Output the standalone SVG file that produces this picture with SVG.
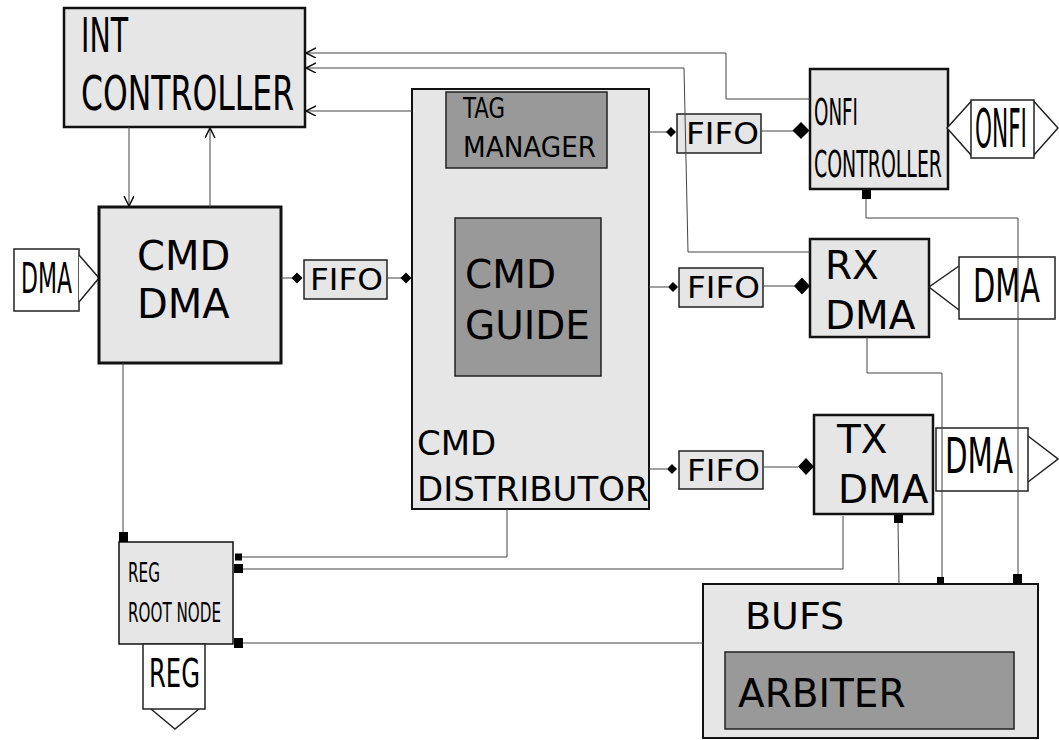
<svg xmlns="http://www.w3.org/2000/svg" width="1059" height="740" viewBox="0 0 1059 740">
<defs>
<style>
.box{fill:#e6e6e6;stroke:#111;}
.inner{fill:#999;stroke:#222;stroke-width:1.5;}
.out{fill:#fff;stroke:#222;stroke-width:1.5;}
.fifo{fill:#e6e6e6;stroke:#222;stroke-width:1.5;}
.t{font-family:"DejaVu Sans","Liberation Sans",sans-serif;fill:#000;}
.c{fill:none;stroke:#444;stroke-width:1;}
.dot{fill:#000;stroke:none;}
</style>
<marker id="arr" markerWidth="12" markerHeight="12" refX="10" refY="5" orient="auto" markerUnits="userSpaceOnUse">
<path d="M0,0 L10,5 L0,10" fill="none" stroke="#111" stroke-width="1.5"/>
</marker>
</defs>
<rect width="1059" height="740" fill="#fff"/>

<g id="int-controller">
<rect class="box" x="64" y="8" width="241" height="119" stroke-width="2.5"/>
<text class="t" x="81" y="52" font-size="48" textLength="47" lengthAdjust="spacingAndGlyphs">INT</text>
<text class="t" x="81" y="110" font-size="48" textLength="213" lengthAdjust="spacingAndGlyphs">CONTROLLER</text>
</g>

<g id="dma-in">
<rect class="out" x="14" y="249" width="65" height="62"/>
<polyline class="out" points="79,255 99,278 79,302" fill="none"/>
<text class="t" x="21" y="293" font-size="42" textLength="51" lengthAdjust="spacingAndGlyphs">DMA</text>
</g>

<g id="cmd-dma">
<rect class="box" x="99" y="207" width="182" height="156" stroke-width="3"/>
<text class="t" x="137" y="270" font-size="40">CMD</text>
<text class="t" x="137" y="318" font-size="40">DMA</text>
</g>

<g id="fifo-cmd">
<rect class="fifo" x="304" y="260" width="83" height="39"/>
<text class="t" x="310" y="290" font-size="30" textLength="73" lengthAdjust="spacingAndGlyphs">FIFO</text>
</g>

<g id="cmd-distributor">
<rect class="box" x="412" y="89" width="237" height="420" stroke-width="2"/>
<text class="t" x="417" y="455" font-size="34">CMD</text>
<text class="t" x="417" y="501" font-size="34">DISTRIBUTOR</text>
</g>

<g id="tag-manager">
<rect class="inner" x="446" y="92" width="161" height="76"/>
<text class="t" x="463" y="118" font-size="28" textLength="42" lengthAdjust="spacingAndGlyphs">TAG</text>
<text class="t" x="463" y="157" font-size="28" textLength="133" lengthAdjust="spacingAndGlyphs">MANAGER</text>
</g>

<g id="cmd-guide">
<rect class="inner" x="455" y="218" width="146" height="158"/>
<text class="t" x="465" y="288" font-size="39">CMD</text>
<text class="t" x="465" y="339" font-size="39">GUIDE</text>
</g>

<g id="fifo-onfi">
<rect class="fifo" x="677" y="114" width="84" height="39"/>
<text class="t" x="686" y="144" font-size="30" textLength="73" lengthAdjust="spacingAndGlyphs">FIFO</text>
</g>

<g id="fifo-rx">
<rect class="fifo" x="679" y="268" width="84" height="39"/>
<text class="t" x="687" y="298" font-size="30" textLength="73" lengthAdjust="spacingAndGlyphs">FIFO</text>
</g>

<g id="fifo-tx">
<rect class="fifo" x="679" y="451" width="84" height="38"/>
<text class="t" x="687" y="481" font-size="30" textLength="73" lengthAdjust="spacingAndGlyphs">FIFO</text>
</g>

<g id="onfi-controller">
<rect class="box" x="810" y="69" width="138" height="120" stroke-width="2.5"/>
<text class="t" x="814" y="125" font-size="38" textLength="44" lengthAdjust="spacingAndGlyphs">ONFI</text>
<text class="t" x="814" y="177" font-size="38" textLength="128" lengthAdjust="spacingAndGlyphs">CONTROLLER</text>
</g>

<g id="onfi-port">
<polygon class="out" points="971,101.5 1034,101.5 1058,128 1034,155 971,155 947,128"/>
<rect class="out" x="971" y="100" width="63" height="58"/>
<text class="t" x="975" y="147" font-size="53" textLength="52" lengthAdjust="spacingAndGlyphs">ONFI</text>
</g>

<g id="rx-dma">
<rect class="box" x="810" y="239" width="119" height="98" stroke-width="2.5"/>
<text class="t" x="825" y="279" font-size="39">RX</text>
<text class="t" x="825" y="329" font-size="39">DMA</text>
</g>

<g id="rx-dma-port">
<polyline points="959,266 929,287 959,310" fill="none" stroke="#222" stroke-width="1.5"/>
<rect class="out" x="959" y="257" width="96" height="62"/>
<text class="t" x="973" y="302" font-size="47" textLength="67" lengthAdjust="spacingAndGlyphs">DMA</text>
</g>

<g id="tx-dma">
<rect class="box" x="814" y="415" width="119" height="99" stroke-width="2.5"/>
<text class="t" x="837" y="453" font-size="39">TX</text>
<text class="t" x="838" y="503" font-size="39">DMA</text>
</g>

<g id="tx-dma-port">
<rect class="out" x="936" y="428" width="92" height="63"/>
<polyline points="1028,436 1058,459 1028,482" fill="none" stroke="#222" stroke-width="1.5"/>
<text class="t" x="945" y="473" font-size="49" textLength="68" lengthAdjust="spacingAndGlyphs">DMA</text>
</g>

<g id="reg-root-node">
<rect class="box" x="119" y="542" width="114" height="102" stroke-width="1.5"/>
<text class="t" x="128" y="582" font-size="27" textLength="32" lengthAdjust="spacingAndGlyphs">REG</text>
<text class="t" x="128" y="622" font-size="27" textLength="93" lengthAdjust="spacingAndGlyphs">ROOT NODE</text>
</g>

<g id="reg-port">
<rect class="out" x="143" y="644" width="62" height="65"/>
<polyline points="151,709 175,729 199,709" fill="none" stroke="#222" stroke-width="1.5"/>
<text class="t" x="149" y="687" font-size="39" textLength="51" lengthAdjust="spacingAndGlyphs">REG</text>
</g>

<g id="bufs">
<rect class="box" x="703" y="584" width="335" height="154" stroke-width="2"/>
<text class="t" x="745" y="629" font-size="38">BUFS</text>
</g>

<g id="arbiter">
<rect class="inner" x="725" y="652" width="289" height="77" stroke-width="2"/>
<text class="t" x="738" y="707" font-size="39">ARBITER</text>
</g>

<g id="connectors">
<polyline class="c" points="810,99 726,99 726,53 306,53" marker-end="url(#arr)"/>
<polyline class="c" points="810,252 688,252 684,68 306,68" marker-end="url(#arr)"/>
<polyline class="c" points="412,111 306,111" marker-end="url(#arr)"/>
<polyline class="c" points="129,127 129,206" marker-end="url(#arr)"/>
<polyline class="c" points="210,207 210,128" marker-end="url(#arr)"/>

<line class="c" x1="281" y1="278" x2="293" y2="278"/>
<polygon class="dot" points="297,272.5 302.5,278 297,283.5 291.5,278"/>
<line class="c" x1="387" y1="278" x2="402" y2="278"/>
<polygon class="dot" points="406,272.5 411.5,278 406,283.5 400.5,278"/>

<line class="c" x1="649" y1="132" x2="667" y2="132"/>
<polygon class="dot" points="671,127 676,132 671,137 666,132"/>
<line class="c" x1="761" y1="131" x2="794" y2="131"/>
<polygon class="dot" points="801,122 809.5,130.5 801,139 792.5,130.5"/>

<line class="c" x1="649" y1="287" x2="668" y2="287"/>
<polygon class="dot" points="673,282 678,287 673,292 668,287"/>
<line class="c" x1="763" y1="286" x2="795" y2="286"/>
<polygon class="dot" points="802,277.5 810,286 802,294.5 794,286"/>

<line class="c" x1="649" y1="469" x2="667" y2="469"/>
<polygon class="dot" points="672,464 677,469 672,474 667,469"/>
<line class="c" x1="763" y1="467" x2="798" y2="467"/>
<polygon class="dot" points="806,458 814,466.5 806,475 798,466.5"/>

<polyline class="c" points="123,363 123,533"/>
<rect class="dot" x="119" y="532" width="9" height="10"/>

<polyline class="c" points="507,509 507,557 242,557"/>
<rect class="dot" x="235" y="553.5" width="7" height="7"/>

<polyline class="c" points="843,516 843,569 242,569"/>
<rect class="dot" x="234" y="564" width="9" height="9"/>

<polyline class="c" points="703,643 242,643"/>
<rect class="dot" x="234" y="638" width="9" height="10"/>

<rect class="dot" x="862" y="190" width="9" height="9"/>
<polyline class="c" points="866,199 866,218 1018,218 1018,575"/>
<rect class="dot" x="1013" y="574" width="9" height="10"/>

<polyline class="c" points="867,337 867,373 942,373 942,577"/>
<rect class="dot" x="937" y="577" width="7" height="7"/>

<rect class="dot" x="894" y="515" width="9" height="8"/>
<polyline class="c" points="898,523 899,584"/>
</g>
</svg>
